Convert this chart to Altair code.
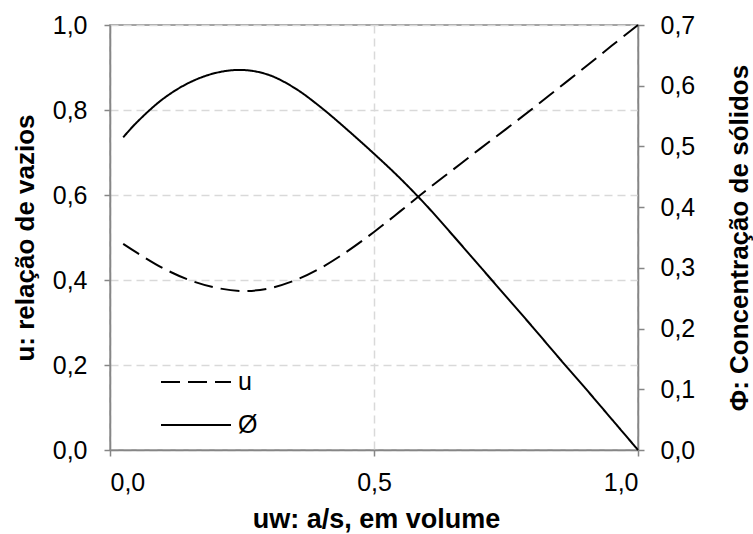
import altair as alt
import pandas as pd

x_vals = [0.025, 0.05, 0.10, 0.15, 0.20, 0.25, 0.30, 0.35, 0.40, 0.45, 0.50,
          0.55, 0.60, 0.65, 0.70, 0.75, 0.80, 0.85, 0.90, 0.95, 1.0]
# u: relação de vazios (left axis)
u_vals = [0.485, 0.465, 0.428, 0.400, 0.382, 0.374, 0.380, 0.399, 0.429, 0.468, 0.513,
          0.562, 0.612, 0.660, 0.708, 0.755, 0.803, 0.852, 0.901, 0.951, 1.0]
# Φ: concentração de sólidos (right axis)
p_vals = [0.515, 0.539, 0.578, 0.605, 0.621, 0.626, 0.618, 0.596, 0.564, 0.527, 0.488,
          0.447, 0.402, 0.353, 0.303, 0.253, 0.203, 0.152, 0.102, 0.051, 0.0]

x_ticks = [0.0, 0.5, 1.0]
yl_ticks = [0.0, 0.2, 0.4, 0.6, 0.8, 1.0]
yr_ticks = [0.0, 0.1, 0.2, 0.3, 0.4, 0.5, 0.6, 0.7]
series = ["u", "Ø"]

df_u = pd.DataFrame({"x": x_vals, "y": u_vals, "serie": series[0]})
df_p = pd.DataFrame({"x": x_vals, "y": p_vals, "serie": series[1]})

FONT = "Liberation Sans"
AX = "#868686"
GRID = "#d9d9d9"
fmt = "replace(format(datum.value, '.1f'), '.', ',')"

xenc = alt.X("x:Q", scale=alt.Scale(domain=[0, 1], nice=False, zero=False),
             axis=alt.Axis(values=x_ticks, labelExpr=fmt, title="uw: a/s, em volume",
                           grid=True, gridDash=[8, 5], gridColor=GRID, gridWidth=1.5,
                           labelPadding=14, titleBaseline="alphabetic", titleY=77,
                           titleX=266, titleAlign="center", titleFontSize=27))

dash = alt.StrokeDash("serie:N",
                      scale=alt.Scale(domain=series, range=[[19, 8], [1, 0]]),
                      legend=alt.Legend(title=None, orient="none", legendX=50, legendY=342,
                                        symbolType="stroke", symbolSize=4900,
                                        symbolStrokeWidth=2, symbolStrokeColor="black",
                                        labelFontSize=25, labelFont=FONT, labelOffset=6,
                                        clipHeight=30, rowPadding=13, padding=0))

left = alt.Chart(df_u).mark_line(color="black", strokeWidth=2, interpolate="catmull-rom").encode(
    x=xenc,
    y=alt.Y("y:Q", scale=alt.Scale(domain=[0, 1], nice=False),
            axis=alt.Axis(values=yl_ticks, labelExpr=fmt, title="u: relação de vazios",
                          grid=True, gridDash=[8, 5], gridColor=GRID, gridWidth=1.5,
                          labelPadding=17, titleAngle=270, titleBaseline="alphabetic",
                          titleAlign="center", titleX=-77, titleY=212.5)),
    strokeDash=dash,
)

right = alt.Chart(df_p).mark_line(color="black", strokeWidth=2, interpolate="catmull-rom").encode(
    x=xenc,
    y=alt.Y("y:Q", scale=alt.Scale(domain=[0, 0.7], nice=False),
            axis=alt.Axis(orient="right", values=yr_ticks, labelExpr=fmt,
                          title="Φ: Concentração de sólidos", titleAngle=270,
                          titleBaseline="alphabetic", titleAlign="center",
                          titleX=109, titleY=212.5,
                          grid=False, labelPadding=16)),
    strokeDash=dash,
)

chart = alt.layer(left, right).resolve_scale(y="independent").properties(
    width=528, height=425,
    autosize="none",
    padding={"left": 110, "top": 25, "right": 115, "bottom": 84},
).configure_view(stroke=AX, strokeWidth=1.5).configure_axis(
    domainColor=AX, domainWidth=1.5, tickColor=AX, tickWidth=1.5, tickSize=6,
    labelFont=FONT, labelFontSize=25, labelColor="black",
    titleFont=FONT, titleFontSize=26, titleFontWeight="bold", titleColor="black",
)

chart.save("out.html", embed_options={"renderer": "svg", "actions": False})
